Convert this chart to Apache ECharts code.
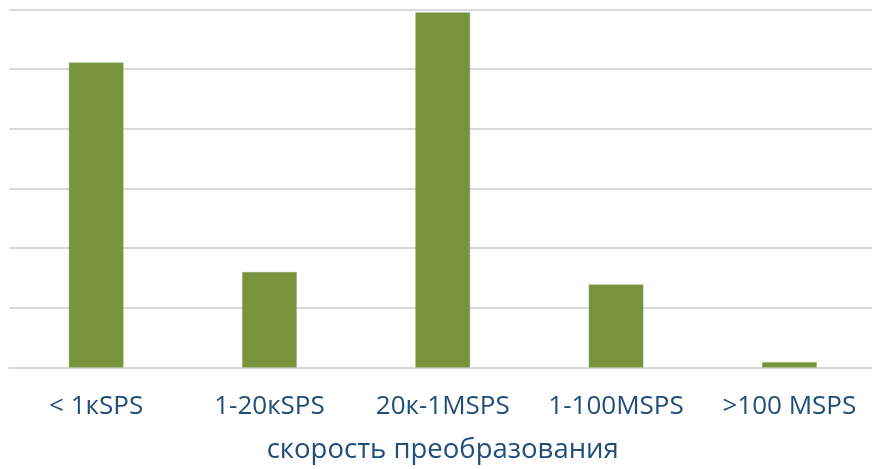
<!DOCTYPE html>
<html>
<head>
<meta charset="utf-8">
<script src="https://cdn.jsdelivr.net/npm/echarts@6/dist/echarts.min.js"></script>
<style>
  html, body { margin: 0; padding: 0; background: #ffffff; }
  #chart { width: 872px; height: 469px; }
</style>
</head>
<body>
<div id="chart"></div>
<script>
// Categories of conversion speed and the count in each
const categories = ['< 1кSPS', '1-20кSPS', '20к-1MSPS', '1-100MSPS', '>100 MSPS'];
const values = [5.11, 1.6, 5.95, 1.39, 0.09];
const axisTitle = 'скорость преобразования';

const chart = echarts.init(document.getElementById('chart'));
chart.setOption({
  animation: false,
  grid: { left: 9.5, top: 9.5, width: 866.5, height: 358, outerBoundsMode: 'none', containLabel: false },
  xAxis: {
    type: 'category',
    data: categories,
    name: axisTitle,
    nameLocation: 'middle',
    nameGap: 69,
    nameTextStyle: { color: '#1f4e79', fontFamily: 'Open Sans', fontSize: 27.5 },
    axisLine: { show: true, lineStyle: { color: '#d9d9d9', width: 2 } },
    axisTick: { show: false },
    axisLabel: {
      color: '#1f4e79', fontFamily: 'Open Sans', fontSize: 26, margin: 26,
      interval: 0, hideOverlap: false
    }
  },
  yAxis: {
    type: 'value',
    min: 0,
    max: 6,
    interval: 1,
    axisLabel: { show: false },
    axisLine: { show: false },
    axisTick: { show: false },
    splitLine: { lineStyle: { color: '#d9d9d9', width: 2 } }
  },
  series: [{
    type: 'bar',
    data: values,
    barWidth: '31.5%',
    itemStyle: { color: '#77933c', borderColor: '#8aa655', borderWidth: 0.5 }
  }]
});
</script>
</body>
</html>
